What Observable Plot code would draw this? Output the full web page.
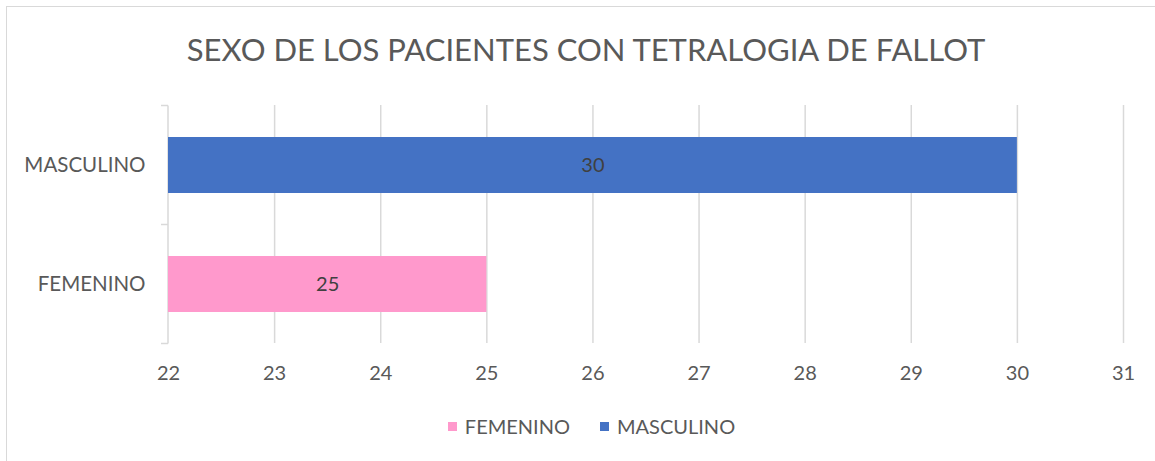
<!DOCTYPE html>
<html>
<head>
<meta charset="utf-8">
<script src="https://cdn.jsdelivr.net/npm/d3@7"></script>
<script src="https://cdn.jsdelivr.net/npm/@observablehq/plot@0.6"></script>
<style>
  html, body { margin: 0; padding: 0; background: #fff; }
  body { width: 1155px; height: 461px; overflow: hidden; position: relative; font-family: Lato, "Open Sans", sans-serif; }
  #frame { position: absolute; left: 6px; top: 6px; width: 1200px; height: 500px; border-left: 1px solid #d9d9d9; border-top: 1px solid #d9d9d9; box-sizing: border-box; }
  #wrap { position: relative; width: 1155px; }
  #title { height: 95px; width: 1172px; text-align: center; font-size: 31px; color: #595959; line-height: 95px; box-sizing: border-box; }
  #title span { position: relative; top: 2px; }
  #chart svg { display: block; }
  #legend { width: 1183px; display: flex; justify-content: center; align-items: center; gap: 30px; font-size: 20px; color: #595959; margin-top: 26px; }
  .item { display: flex; align-items: center; gap: 8px; }
  .sw { width: 9px; height: 9px; display: inline-block; }
</style>
</head>
<body>
<div id="frame"></div>
<div id="wrap">
  <div id="title"><span>SEXO DE LOS PACIENTES CON TETRALOGIA DE FALLOT</span></div>
  <div id="chart"></div>
  <div id="legend"></div>
</div>
<script>
// Data
const categories = ["MASCULINO", "FEMENINO"];
const values = [30, 25];
const colors = ["#4472C4", "#FF99CC"];
const legendOrder = ["FEMENINO", "MASCULINO"];
const xTicks = [22, 23, 24, 25, 26, 27, 28, 29, 30, 31];
const xMin = 22;
const xMax = 31;

const data = categories.map((c, i) => ({category: c, value: values[i], color: colors[i]}));

const grid = "#d9d9d9";
const textColor = "#595959";

// Category boundary ticks drawn via the y band scale
function categoryAxisTicks(index, scales) {
  const y = scales.y;
  const step = y.step();
  const x0 = scales.x(xMin);
  const g = d3.create("svg:g");
  const bounds = [];
  y.domain().forEach((c) => {
    const center = y(c) + y.bandwidth() / 2;
    bounds.push(center - step / 2, center + step / 2);
  });
  const uniq = Array.from(new Set(bounds.map(b => Math.round(b * 10) / 10)));
  g.append("line")
    .attr("x1", x0).attr("x2", x0)
    .attr("y1", d3.min(uniq)).attr("y2", d3.max(uniq))
    .attr("stroke", grid).attr("stroke-width", 1.5);
  uniq.forEach(b => {
    g.append("line")
      .attr("x1", x0 - 7).attr("x2", x0)
      .attr("y1", b).attr("y2", b)
      .attr("stroke", grid).attr("stroke-width", 1.5);
  });
  return g.node();
}

const plot = Plot.plot({
  width: 1155,
  height: 293,
  marginLeft: 168,
  marginRight: 32,
  marginTop: 10,
  marginBottom: 45,
  style: { fontFamily: "Lato, 'Open Sans', sans-serif", background: "transparent" },
  x: { domain: [xMin, xMax], ticks: xTicks, axis: null, label: null },
  y: { domain: categories, paddingInner: 0.53, paddingOuter: 0.265, axis: null, label: null },
  marks: [
    Plot.ruleX(xTicks.filter(t => t !== xMin), { stroke: grid, strokeWidth: 1.5 }),
    categoryAxisTicks,
    Plot.barX(data, { x1: () => xMin, x2: "value", y: "category", fill: "color" }),
    Plot.text(data, { x: d => (xMin + d.value) / 2, y: "category", text: d => String(d.value), fill: "#404040", fontSize: 20 }),
    Plot.axisX({ ticks: xTicks, tickSize: 0, tickPadding: 22, fontSize: 20, color: textColor, tickFormat: d => String(d), label: null }),
    Plot.axisY({ tickSize: 0, tickPadding: 23, fontSize: 20.5, color: textColor, label: null })
  ]
});
document.getElementById("chart").appendChild(plot);

const legend = document.getElementById("legend");
legendOrder.forEach(name => {
  const i = categories.indexOf(name);
  const item = document.createElement("div");
  item.className = "item";
  const sw = document.createElement("span");
  sw.className = "sw";
  sw.style.background = colors[i];
  const lab = document.createElement("span");
  lab.textContent = name;
  item.appendChild(sw);
  item.appendChild(lab);
  legend.appendChild(item);
});
</script>
</body>
</html>
